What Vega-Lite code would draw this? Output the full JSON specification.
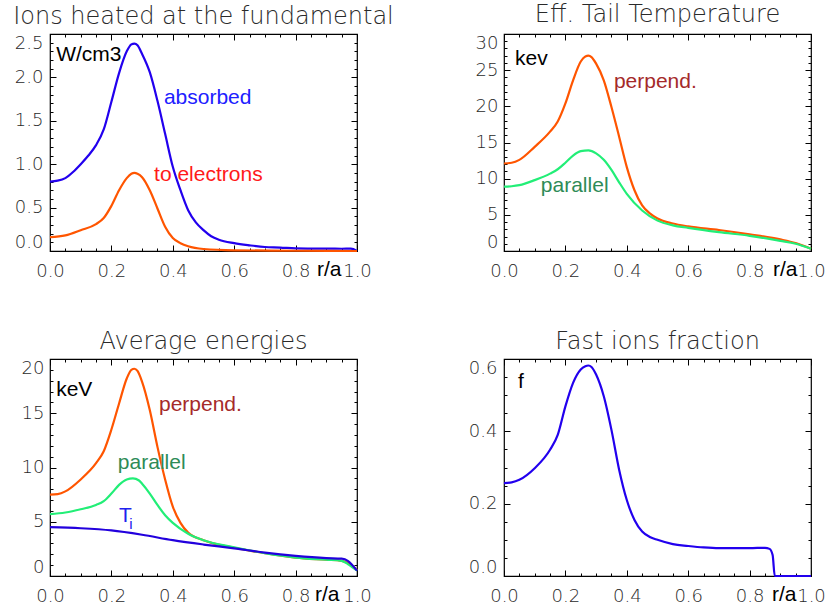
{
  "$schema": "https://vega.github.io/schema/vega-lite/v6.json",
  "background": "white",
  "padding": {"left": 12, "top": 2, "right": 0, "bottom": 0},
  "bounds": "flush",
  "columns": 2,
  "spacing": {"row": 108, "column": 147},
  "config": {
    "view": {"stroke": "#000", "strokeWidth": 1.2},
    "axis": {"labelFont": "DejaVu Sans", "labelFontSize": 18, "labelFontWeight": 200, "labelColor": "#2a2a2a", "grid": false, "domain": false, "tickColor": "#000", "tickWidth": 1, "labelOverlap": false},
    "title": {"font": "DejaVu Sans", "fontSize": 24, "fontWeight": 200, "color": "#2a2a2a", "baseline": "alphabetic", "offset": 5, "anchor": "middle"}
  },
  "datasets": {
    "p1": [
      {"r": 0, "v": 0.80, "s": "abs"}, {"r": 0.025, "v": 0.81, "s": "abs"}, {"r": 0.05, "v": 0.84, "s": "abs"}, {"r": 0.075, "v": 0.91, "s": "abs"}, {"r": 0.1, "v": 1.0, "s": "abs"}, {"r": 0.125, "v": 1.1, "s": "abs"}, {"r": 0.15, "v": 1.22, "s": "abs"}, {"r": 0.175, "v": 1.40, "s": "abs"}, {"r": 0.2, "v": 1.72, "s": "abs"}, {"r": 0.225, "v": 2.05, "s": "abs"}, {"r": 0.25, "v": 2.30, "s": "abs"}, {"r": 0.265, "v": 2.38, "s": "abs"}, {"r": 0.275, "v": 2.39, "s": "abs"}, {"r": 0.285, "v": 2.37, "s": "abs"}, {"r": 0.3, "v": 2.27, "s": "abs"}, {"r": 0.325, "v": 2.06, "s": "abs"}, {"r": 0.35, "v": 1.73, "s": "abs"}, {"r": 0.375, "v": 1.35, "s": "abs"}, {"r": 0.4, "v": 0.97, "s": "abs"}, {"r": 0.425, "v": 0.70, "s": "abs"}, {"r": 0.45, "v": 0.47, "s": "abs"}, {"r": 0.475, "v": 0.33, "s": "abs"}, {"r": 0.5, "v": 0.24, "s": "abs"}, {"r": 0.525, "v": 0.17, "s": "abs"}, {"r": 0.55, "v": 0.13, "s": "abs"}, {"r": 0.6, "v": 0.09, "s": "abs"}, {"r": 0.65, "v": 0.065, "s": "abs"}, {"r": 0.7, "v": 0.046, "s": "abs"}, {"r": 0.75, "v": 0.04, "s": "abs"}, {"r": 0.8, "v": 0.03, "s": "abs"}, {"r": 0.85, "v": 0.028, "s": "abs"}, {"r": 0.9, "v": 0.027, "s": "abs"}, {"r": 0.95, "v": 0.026, "s": "abs"}, {"r": 0.98, "v": 0.027, "s": "abs"}, {"r": 1.0, "v": 0.0, "s": "abs"},
      {"r": 0, "v": 0.16, "s": "ele"}, {"r": 0.05, "v": 0.18, "s": "ele"}, {"r": 0.1, "v": 0.24, "s": "ele"}, {"r": 0.15, "v": 0.31, "s": "ele"}, {"r": 0.175, "v": 0.38, "s": "ele"}, {"r": 0.2, "v": 0.52, "s": "ele"}, {"r": 0.225, "v": 0.70, "s": "ele"}, {"r": 0.25, "v": 0.84, "s": "ele"}, {"r": 0.265, "v": 0.89, "s": "ele"}, {"r": 0.275, "v": 0.90, "s": "ele"}, {"r": 0.285, "v": 0.89, "s": "ele"}, {"r": 0.3, "v": 0.85, "s": "ele"}, {"r": 0.325, "v": 0.70, "s": "ele"}, {"r": 0.35, "v": 0.49, "s": "ele"}, {"r": 0.375, "v": 0.28, "s": "ele"}, {"r": 0.4, "v": 0.15, "s": "ele"}, {"r": 0.425, "v": 0.09, "s": "ele"}, {"r": 0.45, "v": 0.054, "s": "ele"}, {"r": 0.5, "v": 0.023, "s": "ele"}, {"r": 0.6, "v": 0.008, "s": "ele"}, {"r": 0.8, "v": 0.003, "s": "ele"}, {"r": 1.0, "v": 0.0, "s": "ele"}
    ],
    "p2": [
      {"r": 0, "v": 12.1, "s": "perp"}, {"r": 0.025, "v": 12.2, "s": "perp"}, {"r": 0.05, "v": 12.6, "s": "perp"}, {"r": 0.1, "v": 14.4, "s": "perp"}, {"r": 0.15, "v": 16.5, "s": "perp"}, {"r": 0.175, "v": 17.9, "s": "perp"}, {"r": 0.2, "v": 20.4, "s": "perp"}, {"r": 0.225, "v": 23.6, "s": "perp"}, {"r": 0.25, "v": 26.2, "s": "perp"}, {"r": 0.265, "v": 26.9, "s": "perp"}, {"r": 0.275, "v": 27.0, "s": "perp"}, {"r": 0.285, "v": 26.8, "s": "perp"}, {"r": 0.3, "v": 25.9, "s": "perp"}, {"r": 0.325, "v": 23.6, "s": "perp"}, {"r": 0.35, "v": 19.9, "s": "perp"}, {"r": 0.375, "v": 15.8, "s": "perp"}, {"r": 0.4, "v": 11.6, "s": "perp"}, {"r": 0.425, "v": 8.4, "s": "perp"}, {"r": 0.45, "v": 6.3, "s": "perp"}, {"r": 0.475, "v": 5.2, "s": "perp"}, {"r": 0.5, "v": 4.5, "s": "perp"}, {"r": 0.55, "v": 3.8, "s": "perp"}, {"r": 0.6, "v": 3.4, "s": "perp"}, {"r": 0.7, "v": 2.9, "s": "perp"}, {"r": 0.8, "v": 2.3, "s": "perp"}, {"r": 0.9, "v": 1.6, "s": "perp"}, {"r": 0.95, "v": 1.1, "s": "perp"}, {"r": 1.0, "v": 0.3, "s": "perp"},
      {"r": 0, "v": 8.9, "s": "par"}, {"r": 0.025, "v": 8.95, "s": "par"}, {"r": 0.05, "v": 9.1, "s": "par"}, {"r": 0.1, "v": 9.8, "s": "par"}, {"r": 0.15, "v": 10.7, "s": "par"}, {"r": 0.175, "v": 11.3, "s": "par"}, {"r": 0.2, "v": 12.2, "s": "par"}, {"r": 0.225, "v": 13.2, "s": "par"}, {"r": 0.25, "v": 13.8, "s": "par"}, {"r": 0.275, "v": 13.9, "s": "par"}, {"r": 0.3, "v": 13.5, "s": "par"}, {"r": 0.325, "v": 12.6, "s": "par"}, {"r": 0.35, "v": 11.2, "s": "par"}, {"r": 0.375, "v": 9.5, "s": "par"}, {"r": 0.4, "v": 7.9, "s": "par"}, {"r": 0.45, "v": 5.6, "s": "par"}, {"r": 0.5, "v": 4.2, "s": "par"}, {"r": 0.55, "v": 3.55, "s": "par"}, {"r": 0.6, "v": 3.2, "s": "par"}, {"r": 0.7, "v": 2.6, "s": "par"}, {"r": 0.8, "v": 2.1, "s": "par"}, {"r": 0.9, "v": 1.4, "s": "par"}, {"r": 0.95, "v": 1.0, "s": "par"}, {"r": 1.0, "v": 0.3, "s": "par"}
    ],
    "p3": [
      {"r": 0, "v": 7.5, "s": "perp"}, {"r": 0.025, "v": 7.55, "s": "perp"}, {"r": 0.05, "v": 7.8, "s": "perp"}, {"r": 0.1, "v": 8.9, "s": "perp"}, {"r": 0.15, "v": 10.4, "s": "perp"}, {"r": 0.175, "v": 11.5, "s": "perp"}, {"r": 0.2, "v": 13.5, "s": "perp"}, {"r": 0.225, "v": 15.9, "s": "perp"}, {"r": 0.25, "v": 18.2, "s": "perp"}, {"r": 0.265, "v": 19.0, "s": "perp"}, {"r": 0.275, "v": 19.1, "s": "perp"}, {"r": 0.285, "v": 18.9, "s": "perp"}, {"r": 0.3, "v": 17.9, "s": "perp"}, {"r": 0.325, "v": 15.3, "s": "perp"}, {"r": 0.35, "v": 11.9, "s": "perp"}, {"r": 0.375, "v": 8.9, "s": "perp"}, {"r": 0.4, "v": 6.4, "s": "perp"}, {"r": 0.425, "v": 4.9, "s": "perp"}, {"r": 0.45, "v": 4.0, "s": "perp"}, {"r": 0.5, "v": 3.3, "s": "perp"}, {"r": 0.6, "v": 2.6, "s": "perp"}, {"r": 0.7, "v": 2.1, "s": "perp"}, {"r": 0.8, "v": 1.7, "s": "perp"}, {"r": 0.9, "v": 1.5, "s": "perp"}, {"r": 0.95, "v": 1.4, "s": "perp"}, {"r": 0.97, "v": 1.2, "s": "perp"}, {"r": 0.985, "v": 0.9, "s": "perp"}, {"r": 1.0, "v": 0.55, "s": "perp"},
      {"r": 0, "v": 5.7, "s": "par"}, {"r": 0.05, "v": 5.85, "s": "par"}, {"r": 0.1, "v": 6.15, "s": "par"}, {"r": 0.15, "v": 6.55, "s": "par"}, {"r": 0.175, "v": 6.9, "s": "par"}, {"r": 0.2, "v": 7.6, "s": "par"}, {"r": 0.225, "v": 8.4, "s": "par"}, {"r": 0.25, "v": 8.9, "s": "par"}, {"r": 0.27, "v": 9.0, "s": "par"}, {"r": 0.29, "v": 8.8, "s": "par"}, {"r": 0.3, "v": 8.5, "s": "par"}, {"r": 0.325, "v": 7.6, "s": "par"}, {"r": 0.35, "v": 6.55, "s": "par"}, {"r": 0.375, "v": 5.6, "s": "par"}, {"r": 0.4, "v": 4.9, "s": "par"}, {"r": 0.45, "v": 3.9, "s": "par"}, {"r": 0.5, "v": 3.3, "s": "par"}, {"r": 0.6, "v": 2.65, "s": "par"}, {"r": 0.7, "v": 2.1, "s": "par"}, {"r": 0.8, "v": 1.7, "s": "par"}, {"r": 0.9, "v": 1.5, "s": "par"}, {"r": 0.95, "v": 1.4, "s": "par"}, {"r": 0.97, "v": 1.1, "s": "par"}, {"r": 0.985, "v": 0.8, "s": "par"}, {"r": 1.0, "v": 0.5, "s": "par"},
      {"r": 0, "v": 4.5, "s": "ti"}, {"r": 0.1, "v": 4.4, "s": "ti"}, {"r": 0.2, "v": 4.2, "s": "ti"}, {"r": 0.3, "v": 3.8, "s": "ti"}, {"r": 0.4, "v": 3.3, "s": "ti"}, {"r": 0.5, "v": 2.9, "s": "ti"}, {"r": 0.6, "v": 2.55, "s": "ti"}, {"r": 0.7, "v": 2.15, "s": "ti"}, {"r": 0.8, "v": 1.85, "s": "ti"}, {"r": 0.9, "v": 1.65, "s": "ti"}, {"r": 0.95, "v": 1.6, "s": "ti"}, {"r": 0.97, "v": 1.4, "s": "ti"}, {"r": 0.985, "v": 1.0, "s": "ti"}, {"r": 1.0, "v": 0.5, "s": "ti"}
    ],
    "p4": [
      {"r": 0, "v": 0.257, "s": "f"}, {"r": 0.025, "v": 0.259, "s": "f"}, {"r": 0.05, "v": 0.266, "s": "f"}, {"r": 0.1, "v": 0.298, "s": "f"}, {"r": 0.15, "v": 0.349, "s": "f"}, {"r": 0.175, "v": 0.39, "s": "f"}, {"r": 0.2, "v": 0.469, "s": "f"}, {"r": 0.225, "v": 0.534, "s": "f"}, {"r": 0.25, "v": 0.571, "s": "f"}, {"r": 0.265, "v": 0.58, "s": "f"}, {"r": 0.275, "v": 0.582, "s": "f"}, {"r": 0.285, "v": 0.578, "s": "f"}, {"r": 0.3, "v": 0.557, "s": "f"}, {"r": 0.325, "v": 0.497, "s": "f"}, {"r": 0.35, "v": 0.404, "s": "f"}, {"r": 0.375, "v": 0.294, "s": "f"}, {"r": 0.4, "v": 0.21, "s": "f"}, {"r": 0.425, "v": 0.155, "s": "f"}, {"r": 0.45, "v": 0.123, "s": "f"}, {"r": 0.475, "v": 0.108, "s": "f"}, {"r": 0.5, "v": 0.10, "s": "f"}, {"r": 0.55, "v": 0.088, "s": "f"}, {"r": 0.6, "v": 0.083, "s": "f"}, {"r": 0.65, "v": 0.079, "s": "f"}, {"r": 0.7, "v": 0.077, "s": "f"}, {"r": 0.8, "v": 0.077, "s": "f"}, {"r": 0.85, "v": 0.078, "s": "f"}, {"r": 0.865, "v": 0.075, "s": "f"}, {"r": 0.875, "v": 0.058, "s": "f"}, {"r": 0.882, "v": 0.0, "s": "f"}, {"r": 1.0, "v": 0.0, "s": "f"}
    ],
    "t1": [
      {"r": 0.02, "v": 2.26, "txt": "W/cm3", "kind": "unit"},
      {"r": 0.371, "v": 1.76, "txt": "absorbed", "kind": "abs"},
      {"r": 0.339, "v": 0.876, "txt": "to electrons", "kind": "ele"}
    ],
    "t2": [
      {"r": 0.036, "v": 26.5, "txt": "kev", "kind": "unit"},
      {"r": 0.358, "v": 23.4, "txt": "perpend.", "kind": "perp"},
      {"r": 0.12, "v": 9.0, "txt": "parallel", "kind": "par"}
    ],
    "t3": [
      {"r": 0.02, "v": 17.1, "txt": "keV", "kind": "unit"},
      {"r": 0.355, "v": 15.8, "txt": "perpend.", "kind": "perp"},
      {"r": 0.221, "v": 10.4, "txt": "parallel", "kind": "par"},
      {"r": 0.225, "v": 5.5, "txt": "T", "kind": "ti"}
    ],
    "t3s": [
      {"r": 0.258, "v": 4.8, "txt": "i", "kind": "ti"}
    ],
    "t4": [
      {"r": 0.046, "v": 0.536, "txt": "f", "kind": "unit"}
    ]
  },
  "concat": [
    {
      "width": 307, "height": 217,
      "title": "Ions heated at the fundamental",
      "resolve": {"axis": {"x": "independent", "y": "independent"}},
      "layer": [
        {
          "data": {"name": "p1"},
          "mark": {"type": "line", "interpolate": "monotone", "strokeWidth": 2.2},
          "encoding": {
            "x": {"field": "r", "type": "quantitative", "scale": {"domain": [0, 1], "nice": false, "zero": false},
              "axis": {"orient": "bottom", "values": [0,0.05,0.1,0.15,0.2,0.25,0.3,0.35,0.4,0.45,0.5,0.55,0.6,0.65,0.7,0.75,0.8,0.85,0.9,0.95,1], "format": ".1f",
                "labelExpr": "abs(datum.value*5-round(datum.value*5))<1e-6 ? datum.label : ''",
                "tickSize": {"condition": {"test": "abs(datum.value*5-round(datum.value*5))<1e-6", "value": -6}, "value": -3},
                "labelPadding": 17, "labelFlush": false,
                "title": "r/a", "titleFont": "Liberation Sans", "titleFontSize": 21, "titleFontWeight": "normal", "titleColor": "#000", "titleX": 291, "titleY": 18, "titleAlign": "right", "titleBaseline": "middle"}},
            "y": {"field": "v", "type": "quantitative", "scale": {"domain": [0, 2.5], "nice": false, "zero": false},
              "axis": {"orient": "left", "values": [0,0.1,0.2,0.3,0.4,0.5,0.6,0.7,0.8,0.9,1,1.1,1.2,1.3,1.4,1.5,1.6,1.7,1.8,1.9,2,2.1,2.2,2.3,2.4,2.5], "format": ".1f",
                "labelExpr": "abs(datum.value*2-round(datum.value*2))<1e-6 ? datum.label : ''",
                "tickSize": {"condition": {"test": "abs(datum.value*2-round(datum.value*2))<1e-6", "value": -6}, "value": -3},
                "labelPadding": 13, "labelFlush": true, "title": null}},
            "stroke": {"field": "s", "type": "nominal", "legend": null, "scale": {"domain": ["abs", "ele", "perp", "par", "ti", "f"], "range": ["#2200ee", "#ff5500", "#ff5500", "#22ee77", "#2200dd", "#2200ee"]}}
          }
        },
        {
          "data": {"name": "p1"},
          "mark": {"type": "point", "opacity": 0},
          "encoding": {
            "x": {"field": "r", "type": "quantitative", "scale": {"domain": [0, 1], "nice": false, "zero": false},
              "axis": {"orient": "top", "values": [0,0.05,0.1,0.15,0.2,0.25,0.3,0.35,0.4,0.45,0.5,0.55,0.6,0.65,0.7,0.75,0.8,0.85,0.9,0.95,1], "labels": false,
                "tickSize": {"condition": {"test": "abs(datum.value*5-round(datum.value*5))<1e-6", "value": -6}, "value": -3}, "title": null}},
            "y": {"field": "v", "type": "quantitative", "scale": {"domain": [0, 2.5], "nice": false, "zero": false},
              "axis": {"orient": "right", "values": [0,0.1,0.2,0.3,0.4,0.5,0.6,0.7,0.8,0.9,1,1.1,1.2,1.3,1.4,1.5,1.6,1.7,1.8,1.9,2,2.1,2.2,2.3,2.4,2.5], "labels": false,
                "tickSize": {"condition": {"test": "abs(datum.value*2-round(datum.value*2))<1e-6", "value": -6}, "value": -3}, "title": null}}
          }
        },
        {
          "data": {"name": "t1"},
          "mark": {"type": "text", "font": "Liberation Sans", "fontSize": 21, "align": "left", "baseline": "middle"},
          "encoding": {
            "x": {"field": "r", "type": "quantitative", "axis": null},
            "y": {"field": "v", "type": "quantitative", "axis": null},
            "text": {"field": "txt"},
            "fill": {"field": "kind", "type": "nominal", "legend": null, "scale": {"domain": ["unit", "abs", "ele", "perp", "par", "ti"], "range": ["#000000", "#2020ff", "#ff1a1a", "#a52a2a", "#2e8b57", "#2020ee"]}}
          }
        }
      ]
    },
    {
      "width": 307, "height": 217,
      "title": "Eff. Tail Temperature",
      "resolve": {"axis": {"x": "independent", "y": "independent"}},
      "layer": [
        {
          "data": {"name": "p2"},
          "mark": {"type": "line", "interpolate": "monotone", "strokeWidth": 2.2},
          "encoding": {
            "x": {"field": "r", "type": "quantitative", "scale": {"domain": [0, 1], "nice": false, "zero": false},
              "axis": {"orient": "bottom", "values": [0,0.05,0.1,0.15,0.2,0.25,0.3,0.35,0.4,0.45,0.5,0.55,0.6,0.65,0.7,0.75,0.8,0.85,0.9,0.95,1], "format": ".1f",
                "labelExpr": "abs(datum.value*5-round(datum.value*5))<1e-6 ? datum.label : ''",
                "tickSize": {"condition": {"test": "abs(datum.value*5-round(datum.value*5))<1e-6", "value": -6}, "value": -3},
                "labelPadding": 17, "labelFlush": false,
                "title": "r/a", "titleFont": "Liberation Sans", "titleFontSize": 21, "titleFontWeight": "normal", "titleColor": "#000", "titleX": 293, "titleY": 18, "titleAlign": "right", "titleBaseline": "middle"}},
            "y": {"field": "v", "type": "quantitative", "scale": {"domain": [0, 30], "nice": false, "zero": false},
              "axis": {"orient": "left", "values": [0,1,2,3,4,5,6,7,8,9,10,11,12,13,14,15,16,17,18,19,20,21,22,23,24,25,26,27,28,29,30], "format": "d",
                "labelExpr": "datum.value % 5 == 0 ? datum.label : ''",
                "tickSize": {"condition": {"test": "datum.value % 5 == 0", "value": -6}, "value": -3},
                "labelPadding": 12, "labelFlush": true, "title": null}},
            "stroke": {"field": "s", "type": "nominal", "legend": null, "scale": {"domain": ["abs", "ele", "perp", "par", "ti", "f"], "range": ["#2200ee", "#ff5500", "#ff5500", "#22ee77", "#2200dd", "#2200ee"]}}
          }
        },
        {
          "data": {"name": "p2"},
          "mark": {"type": "point", "opacity": 0},
          "encoding": {
            "x": {"field": "r", "type": "quantitative", "scale": {"domain": [0, 1], "nice": false, "zero": false},
              "axis": {"orient": "top", "values": [0,0.05,0.1,0.15,0.2,0.25,0.3,0.35,0.4,0.45,0.5,0.55,0.6,0.65,0.7,0.75,0.8,0.85,0.9,0.95,1], "labels": false,
                "tickSize": {"condition": {"test": "abs(datum.value*5-round(datum.value*5))<1e-6", "value": -6}, "value": -3}, "title": null}},
            "y": {"field": "v", "type": "quantitative", "scale": {"domain": [0, 30], "nice": false, "zero": false},
              "axis": {"orient": "right", "values": [0,1,2,3,4,5,6,7,8,9,10,11,12,13,14,15,16,17,18,19,20,21,22,23,24,25,26,27,28,29,30], "labels": false,
                "tickSize": {"condition": {"test": "datum.value % 5 == 0", "value": -6}, "value": -3}, "title": null}}
          }
        },
        {
          "data": {"name": "t2"},
          "mark": {"type": "text", "font": "Liberation Sans", "fontSize": 21, "align": "left", "baseline": "middle"},
          "encoding": {
            "x": {"field": "r", "type": "quantitative", "axis": null},
            "y": {"field": "v", "type": "quantitative", "axis": null},
            "text": {"field": "txt"},
            "fill": {"field": "kind", "type": "nominal", "legend": null, "scale": {"domain": ["unit", "abs", "ele", "perp", "par", "ti"], "range": ["#000000", "#2020ff", "#ff1a1a", "#a52a2a", "#2e8b57", "#2020ee"]}}
          }
        }
      ]
    },
    {
      "width": 307, "height": 217,
      "title": "Average energies",
      "resolve": {"axis": {"x": "independent", "y": "independent"}},
      "layer": [
        {
          "data": {"name": "p3"},
          "mark": {"type": "line", "interpolate": "monotone", "strokeWidth": 2.2},
          "encoding": {
            "x": {"field": "r", "type": "quantitative", "scale": {"domain": [0, 1], "nice": false, "zero": false},
              "axis": {"orient": "bottom", "values": [0,0.05,0.1,0.15,0.2,0.25,0.3,0.35,0.4,0.45,0.5,0.55,0.6,0.65,0.7,0.75,0.8,0.85,0.9,0.95,1], "format": ".1f",
                "labelExpr": "abs(datum.value*5-round(datum.value*5))<1e-6 ? datum.label : ''",
                "tickSize": {"condition": {"test": "abs(datum.value*5-round(datum.value*5))<1e-6", "value": -6}, "value": -3},
                "labelPadding": 17, "labelFlush": false,
                "title": "r/a", "titleFont": "Liberation Sans", "titleFontSize": 21, "titleFontWeight": "normal", "titleColor": "#000", "titleX": 289, "titleY": 18, "titleAlign": "right", "titleBaseline": "middle"}},
            "y": {"field": "v", "type": "quantitative", "scale": {"domain": [0, 20], "nice": false, "zero": false},
              "axis": {"orient": "left", "values": [0,1,2,3,4,5,6,7,8,9,10,11,12,13,14,15,16,17,18,19,20], "format": "d",
                "labelExpr": "datum.value % 5 == 0 ? datum.label : ''",
                "tickSize": {"condition": {"test": "datum.value % 5 == 0", "value": -6}, "value": -3},
                "labelPadding": 12, "labelFlush": true, "title": null}},
            "stroke": {"field": "s", "type": "nominal", "legend": null, "scale": {"domain": ["abs", "ele", "perp", "par", "ti", "f"], "range": ["#2200ee", "#ff5500", "#ff5500", "#22ee77", "#2200dd", "#2200ee"]}}
          }
        },
        {
          "data": {"name": "p3"},
          "mark": {"type": "point", "opacity": 0},
          "encoding": {
            "x": {"field": "r", "type": "quantitative", "scale": {"domain": [0, 1], "nice": false, "zero": false},
              "axis": {"orient": "top", "values": [0,0.05,0.1,0.15,0.2,0.25,0.3,0.35,0.4,0.45,0.5,0.55,0.6,0.65,0.7,0.75,0.8,0.85,0.9,0.95,1], "labels": false,
                "tickSize": {"condition": {"test": "abs(datum.value*5-round(datum.value*5))<1e-6", "value": -6}, "value": -3}, "title": null}},
            "y": {"field": "v", "type": "quantitative", "scale": {"domain": [0, 20], "nice": false, "zero": false},
              "axis": {"orient": "right", "values": [0,1,2,3,4,5,6,7,8,9,10,11,12,13,14,15,16,17,18,19,20], "labels": false,
                "tickSize": {"condition": {"test": "datum.value % 5 == 0", "value": -6}, "value": -3}, "title": null}}
          }
        },
        {
          "data": {"name": "t3"},
          "mark": {"type": "text", "font": "Liberation Sans", "fontSize": 21, "align": "left", "baseline": "middle"},
          "encoding": {
            "x": {"field": "r", "type": "quantitative", "axis": null},
            "y": {"field": "v", "type": "quantitative", "axis": null},
            "text": {"field": "txt"},
            "fill": {"field": "kind", "type": "nominal", "legend": null, "scale": {"domain": ["unit", "abs", "ele", "perp", "par", "ti"], "range": ["#000000", "#2020ff", "#ff1a1a", "#a52a2a", "#2e8b57", "#2020ee"]}}
          }
        },
        {
          "data": {"name": "t3s"},
          "mark": {"type": "text", "font": "Liberation Sans", "fontSize": 15, "align": "left", "baseline": "middle"},
          "encoding": {
            "x": {"field": "r", "type": "quantitative", "axis": null},
            "y": {"field": "v", "type": "quantitative", "axis": null},
            "text": {"field": "txt"},
            "fill": {"field": "kind", "type": "nominal", "legend": null, "scale": {"domain": ["unit", "abs", "ele", "perp", "par", "ti"], "range": ["#000000", "#2020ff", "#ff1a1a", "#a52a2a", "#2e8b57", "#2020ee"]}}
          }
        }
      ]
    },
    {
      "width": 307, "height": 217,
      "title": "Fast ions fraction",
      "resolve": {"axis": {"x": "independent", "y": "independent"}},
      "layer": [
        {
          "data": {"name": "p4"},
          "mark": {"type": "line", "interpolate": "monotone", "strokeWidth": 2.2},
          "encoding": {
            "x": {"field": "r", "type": "quantitative", "scale": {"domain": [0, 1], "nice": false, "zero": false},
              "axis": {"orient": "bottom", "values": [0,0.05,0.1,0.15,0.2,0.25,0.3,0.35,0.4,0.45,0.5,0.55,0.6,0.65,0.7,0.75,0.8,0.85,0.9,0.95,1], "format": ".1f",
                "labelExpr": "abs(datum.value*5-round(datum.value*5))<1e-6 ? datum.label : ''",
                "tickSize": {"condition": {"test": "abs(datum.value*5-round(datum.value*5))<1e-6", "value": -6}, "value": -3},
                "labelPadding": 17, "labelFlush": false,
                "title": "r/a", "titleFont": "Liberation Sans", "titleFontSize": 21, "titleFontWeight": "normal", "titleColor": "#000", "titleX": 292, "titleY": 18, "titleAlign": "right", "titleBaseline": "middle"}},
            "y": {"field": "v", "type": "quantitative", "scale": {"domain": [0, 0.6], "nice": false, "zero": false},
              "axis": {"orient": "left", "values": [0,0.05,0.1,0.15,0.2,0.25,0.3,0.35,0.4,0.45,0.5,0.55,0.6], "format": ".1f",
                "labelExpr": "abs(datum.value*5-round(datum.value*5))<1e-6 ? datum.label : ''",
                "tickSize": {"condition": {"test": "abs(datum.value*5-round(datum.value*5))<1e-6", "value": -6}, "value": -3},
                "labelPadding": 13, "labelFlush": true, "title": null}},
            "stroke": {"field": "s", "type": "nominal", "legend": null, "scale": {"domain": ["abs", "ele", "perp", "par", "ti", "f"], "range": ["#2200ee", "#ff5500", "#ff5500", "#22ee77", "#2200dd", "#2200ee"]}}
          }
        },
        {
          "data": {"name": "p4"},
          "mark": {"type": "point", "opacity": 0},
          "encoding": {
            "x": {"field": "r", "type": "quantitative", "scale": {"domain": [0, 1], "nice": false, "zero": false},
              "axis": {"orient": "top", "values": [0,0.05,0.1,0.15,0.2,0.25,0.3,0.35,0.4,0.45,0.5,0.55,0.6,0.65,0.7,0.75,0.8,0.85,0.9,0.95,1], "labels": false,
                "tickSize": {"condition": {"test": "abs(datum.value*5-round(datum.value*5))<1e-6", "value": -6}, "value": -3}, "title": null}},
            "y": {"field": "v", "type": "quantitative", "scale": {"domain": [0, 0.6], "nice": false, "zero": false},
              "axis": {"orient": "right", "values": [0,0.05,0.1,0.15,0.2,0.25,0.3,0.35,0.4,0.45,0.5,0.55,0.6], "labels": false,
                "tickSize": {"condition": {"test": "abs(datum.value*5-round(datum.value*5))<1e-6", "value": -6}, "value": -3}, "title": null}}
          }
        },
        {
          "data": {"name": "t4"},
          "mark": {"type": "text", "font": "Liberation Sans", "fontSize": 21, "align": "left", "baseline": "middle"},
          "encoding": {
            "x": {"field": "r", "type": "quantitative", "axis": null},
            "y": {"field": "v", "type": "quantitative", "axis": null},
            "text": {"field": "txt"},
            "fill": {"field": "kind", "type": "nominal", "legend": null, "scale": {"domain": ["unit", "abs", "ele", "perp", "par", "ti"], "range": ["#000000", "#2020ff", "#ff1a1a", "#a52a2a", "#2e8b57", "#2020ee"]}}
          }
        }
      ]
    }
  ]
}
